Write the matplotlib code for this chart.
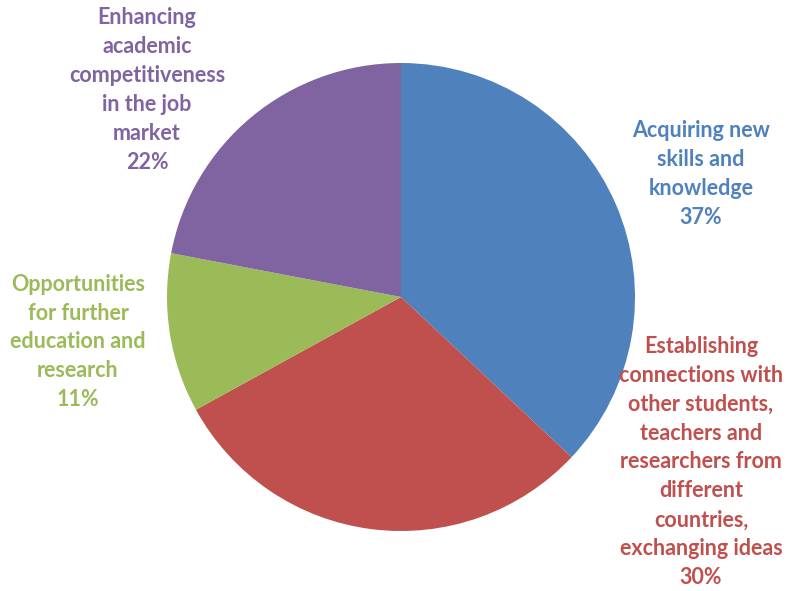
import matplotlib
matplotlib.use("Agg")
import matplotlib.pyplot as plt

categories = [
    "Acquiring new\nskills and\nknowledge",
    "Establishing\nconnections with\nother students,\nteachers and\nresearchers from\ndifferent\ncountries,\nexchanging ideas",
    "Opportunities\nfor further\neducation and\nresearch",
    "Enhancing\nacademic\ncompetitiveness\nin the job\nmarket",
]
shares = [37, 30, 11, 22]
colors = ["#4F81BD", "#C0504D", "#9BBB59", "#8064A2"]
text_colors = ["#4F81BD", "#C0504D", "#9BBB59", "#8064A2"]

# label block centres in figure pixels (x, y from top)
label_pos = [(701, 174), (701, 462), (78, 342), (147, 90)]

W, H = 788, 591
fig = plt.figure(figsize=(W / 100, H / 100), dpi=100)

cx, cy, r = 401, 297, 234
ax = fig.add_axes([(cx - r) / W, 1 - (cy + r) / H, 2 * r / W, 2 * r / H])
ax.pie(shares, colors=colors, startangle=90, counterclock=False, radius=1,
       wedgeprops=dict(linewidth=0))
ax.set_xlim(-1, 1)
ax.set_ylim(-1, 1)
ax.axis("off")

for cat, val, col, (px, py) in zip(categories, shares, text_colors, label_pos):
    fig.text(px / W, 1 - py / H, f"{cat}\n{val}%", color=col,
             ha="center", va="center", fontsize=15.5, fontweight="bold",
             family="Lato", linespacing=1.47)

fig.savefig("out.png", dpi=100)
